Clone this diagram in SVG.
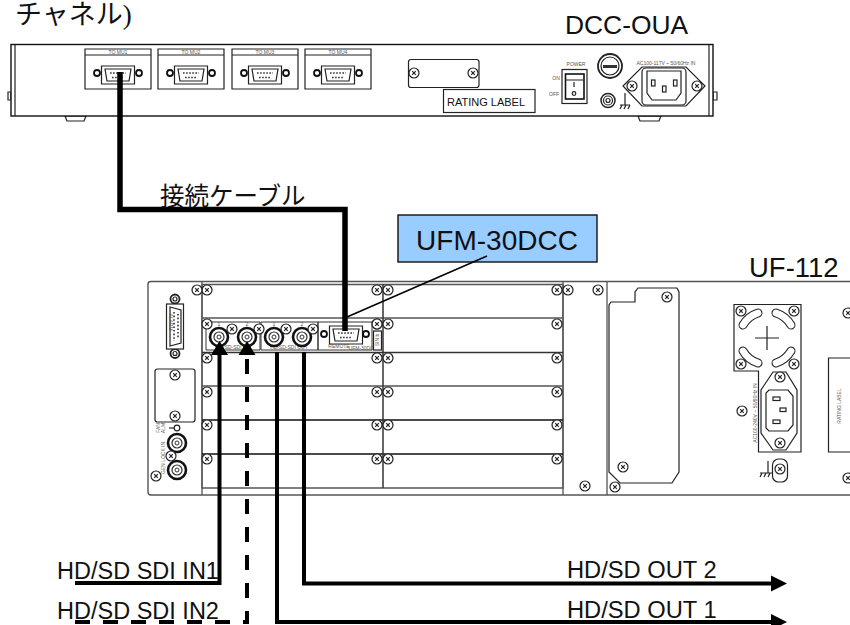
<svg xmlns="http://www.w3.org/2000/svg" width="850" height="625" viewBox="0 0 850 625">
<style>
.l{fill:none;stroke:#222;stroke-width:1.2}
.g{fill:none;stroke:#555;stroke-width:1.3}
.b{fill:#fff;stroke:#222;stroke-width:1.2}
.t{font-family:"Liberation Sans",Arial,sans-serif;fill:#111}
.s{font-family:"Liberation Sans",Arial,sans-serif;fill:#555;font-size:5px;text-anchor:middle}
.j{font-family:"Liberation Sans","Noto Sans CJK JP",sans-serif;fill:#111}
.c{fill:none;stroke:#000;stroke-width:4}
.h{fill:#000}
</style>
<defs>
<g id="sc"><circle r="5" fill="#fff" stroke="#222" stroke-width="1.2"/><path d="M-1.8-1.8 1.8 1.8M-1.8 1.8 1.8-1.8" stroke="#222" stroke-width="1.2"/></g>
<g id="dot"><circle r="3" fill="#fff" stroke="#111" stroke-width="1.8"/></g>
<g id="dsub"><path d="M-16.5-9H16.5V9H-16.5Z" class="b"/><path d="M-13-6H13L11 6H-11Z" class="b"/><path d="M-8-2H8M-6 2.500H6" stroke="#333" stroke-width="1.600" stroke-dasharray="1.600 1.500"/></g>
<g id="mod"><path d="M0 0H66V40H0ZM0 6H66" class="b"/><use href="#dsub" x="33" y="26"/><use href="#dot" x="12" y="24"/><use href="#dot" x="54" y="24"/></g>
<g id="bnc"><circle r="9" fill="#fff" stroke="#111" stroke-width="2.600"/><circle r="5" fill="#fff" stroke="#333" stroke-width="1.200"/><circle r="2" fill="none" stroke="#333" stroke-width="1"/></g>
</defs>

<g id="dcc-oua">
<path d="M65 116 67 121H84L86 116ZM638 116 640 121H659L661 116Z" class="b"/>
<path d="M11 92H8V100H11ZM713 92H717V100H713Z" class="b"/>
<rect x="11" y="44.500" width="702" height="71.500" fill="#fff" stroke="#111" stroke-width="1.400"/>
<path d="M15 45V116M709 45V116" class="l"/>
<use href="#mod" x="85" y="49"/><use href="#mod" x="158" y="49"/><use href="#mod" x="232" y="49"/><use href="#mod" x="305" y="49"/>
<text class="s" x="118" y="54">TO MU1</text><text class="s" x="191" y="54">TO MU2</text><text class="s" x="265" y="54">TO MU3</text><text class="s" x="338" y="54">TO MU4</text>
<rect x="408.500" y="59.500" width="70.500" height="28" rx="2.500" class="b"/>
<use href="#sc" x="414" y="73"/><use href="#sc" x="473" y="73"/>
<rect x="443.500" y="89.500" width="91.500" height="23" class="b"/>
<text class="t" x="447" y="106" font-size="11">RATING LABEL</text>
<text class="s" x="576" y="66">POWER</text>
<text class="s" x="556" y="80" font-size="4">ON</text><text class="s" x="554" y="96">OFF</text>
<rect x="562" y="69.500" width="25" height="34" class="b"/>
<rect x="565.500" y="74" width="18.500" height="25" fill="#fff" stroke="#111" stroke-width="1.600"/>
<path d="M565 80H584M574 82V87" class="l"/><circle cx="574" cy="93.500" r="1.800" class="l"/>
<circle cx="610" cy="66" r="12" fill="#fff" stroke="#222" stroke-width="1.800"/><circle cx="610" cy="66" r="9" class="l"/><path d="M603 65H617V68H603Z" fill="#333"/>
<circle cx="608" cy="100.500" r="7" fill="#fff" stroke="#222" stroke-width="1.500"/><circle cx="608" cy="100.500" r="4.500" class="l"/><circle cx="608" cy="100.500" r="2" class="l"/>
<path d="M625 93V105M620 105H630M622 105 620 109M626 105 624 109M630 105 628 109" class="l"/>
<text class="s" x="666" y="65">AC100-117V ~ 50/60Hz IN</text>
<path d="M642 67H686L705 86 686 106H642L623 86Z" class="b"/>
<rect x="642" y="68" width="44" height="37" rx="4" class="b"/>
<path d="M647 71H681V93L676 100H652L647 93Z" class="b"/>
<use href="#sc" x="632" y="86"/><use href="#sc" x="697" y="86"/>
<rect x="651.500" y="80" width="3.500" height="6" class="b"/><rect x="673.500" y="80" width="3.500" height="6" class="b"/><rect x="662.500" y="86" width="3.500" height="6" class="b"/>
</g>

<g id="uf-112">
<path d="M850 281.500H151Q148 281.500 148 284V492Q148 495 151 495H850" fill="#fff" stroke="#555" stroke-width="1.400"/>
<path d="M202 282V495M563 282V495M607 282V495" class="g"/>
<path d="M202 284.500H563V488H202Z" class="g" stroke="#333"/>
<path d="M202 318H563" class="g"/><path d="M202 352.500H563" stroke="#333" stroke-width="1.300"/><path d="M202 386H563" class="g"/><path d="M202 420H563M202 454H563" stroke="#111" stroke-width="1.500"/>
<path d="M383 284V488" stroke="#333" stroke-width="1.500"/>
<g id="sc-rows">
<use href="#sc" x="207" y="290"/><use href="#sc" x="377" y="290"/><use href="#sc" x="388" y="290"/><use href="#sc" x="557" y="290"/>
<use href="#sc" x="377" y="324"/><use href="#sc" x="388" y="324"/><use href="#sc" x="557" y="324"/>
<use href="#sc" x="207" y="358"/><use href="#sc" x="377" y="358"/><use href="#sc" x="388" y="358"/><use href="#sc" x="557" y="358"/>
<use href="#sc" x="207" y="392"/><use href="#sc" x="377" y="392"/><use href="#sc" x="388" y="392"/><use href="#sc" x="557" y="392"/>
<use href="#sc" x="207" y="425"/><use href="#sc" x="377" y="425"/><use href="#sc" x="388" y="425"/><use href="#sc" x="557" y="425"/>
<use href="#sc" x="207" y="459"/><use href="#sc" x="377" y="459"/><use href="#sc" x="388" y="459"/><use href="#sc" x="557" y="459"/>
</g>
<use href="#sc" x="197" y="290"/><use href="#sc" x="568" y="290"/><use href="#sc" x="598" y="290"/><use href="#sc" x="585" y="486"/><use href="#sc" x="156" y="476"/>
<circle cx="175" cy="299" r="4.500" fill="#fff" stroke="#222" stroke-width="1.800"/><circle cx="175" cy="299" r="2" class="l"/>
<circle cx="175" cy="353.500" r="4.500" fill="#fff" stroke="#222" stroke-width="1.800"/><circle cx="175" cy="353.500" r="2" class="l"/>
<rect x="166.500" y="304" width="17" height="45" class="b"/><path d="M170 307 181 310V343L170 346Z" class="b"/><path d="M174 312V341M178 314V339" stroke="#333" stroke-width="1.600" stroke-dasharray="1.600 2"/>
<text class="s" transform="translate(169 322) rotate(90)">ALARM</text>
<rect x="155" y="369" width="40" height="53" rx="2.500" class="b"/><use href="#sc" x="175" y="375"/><use href="#sc" x="175" y="416"/>
<circle cx="177" cy="428" r="2.800" class="b"/><path d="M169 428H174" class="l"/>
<text class="s" transform="translate(160 428) rotate(-90)">FAN</text><text class="s" transform="translate(165 428) rotate(-90)">ALM</text>
<text class="s" transform="translate(165 458) rotate(-90)">GEN LOCK IN</text>
<use href="#bnc" x="177" y="443"/><use href="#bnc" x="177" y="470"/><use href="#sc" x="171" y="456"/>
<path d="M206 322H260V350H206ZM261 322H318V350H261ZM318 322H372V350H318Z" fill="#fff" stroke="#333" stroke-width="1"/>
<use href="#sc" x="207" y="324"/><use href="#sc" x="377" y="324"/>
<text class="s" x="219" y="326">1</text><text class="s" x="247" y="326">2</text><text class="s" x="274" y="326">1</text><text class="s" x="302" y="326">2</text>
<text class="s" x="232" y="349">HD/SD-SDI IN</text><text class="s" x="289" y="349">HD/SD-SDI OUT</text>
<use href="#bnc" x="219" y="337"/><use href="#bnc" x="247" y="337"/><use href="#bnc" x="274" y="337"/><use href="#bnc" x="302" y="337"/>
<use href="#sc" x="232" y="329"/><use href="#sc" x="259" y="329"/><use href="#sc" x="286" y="329"/><use href="#sc" x="313" y="329"/>
<use href="#dsub" x="346" y="335"/><use href="#dot" x="324" y="334"/><use href="#dot" x="366" y="334"/>
<text class="s" x="339" y="348">REMOTE</text><text class="s" x="363" y="350" font-size="4">UFM-30DCC</text>
<rect x="373.500" y="331" width="8" height="19" class="b"/><text class="s" transform="translate(379 340) rotate(-90)">SIN b</text>
<path d="M611 302H635V292L638 288H677L679 292V472L672 483H620L609 472V305Z" class="b"/>
<use href="#sc" x="667" y="297"/><use href="#sc" x="623" y="467"/><use href="#sc" x="615" y="487"/>
<path d="M734 304.500H801V452H758.500V371H734Z" class="b"/>
<g fill="none" stroke-linecap="round">
<g stroke="#222" stroke-width="9"><path d="M743 325A27 27 0 0 1 758 313"/><path d="M776 313A27 27 0 0 1 791 325"/><path d="M743 351A27 27 0 0 0 758 363"/><path d="M776 363A27 27 0 0 0 791 351"/></g>
<g stroke="#fff" stroke-width="6.800"><path d="M743 325A27 27 0 0 1 758 313"/><path d="M776 313A27 27 0 0 1 791 325"/><path d="M743 351A27 27 0 0 0 758 363"/><path d="M776 363A27 27 0 0 0 791 351"/></g>
</g>
<path d="M755 338H779M767 326V350" class="l"/>
<use href="#sc" x="741" y="311"/><use href="#sc" x="794" y="311"/><use href="#sc" x="741" y="364"/><use href="#sc" x="794" y="364"/>
<path d="M773 372H786L797 390V433L786 450H773L761 433V390Z" class="b"/>
<path d="M769 390H788L793 396V425L788 431H769L766 428V393Z" class="b"/>
<rect x="773" y="397" width="7" height="3.500" class="b"/><rect x="773" y="420" width="7" height="3.500" class="b"/><rect x="780" y="408" width="6" height="3.500" class="b"/>
<use href="#sc" x="780" y="377"/><use href="#sc" x="780" y="443"/><use href="#sc" x="742" y="411"/>
<text class="s" transform="translate(757 413) rotate(-90)">AC100-240V ~ 50/60Hz IN</text>
<rect x="772.500" y="459" width="15" height="23" rx="6" class="b"/><use href="#sc" x="780" y="469"/>
<path d="M768 461V473M760 473H772M762 473 760 477M766 473 764 477M770 473 768 477" class="l"/>
<path d="M850 358H828.500V452H850" class="b"/>
<text class="s" transform="translate(841 406) rotate(-90)" font-size="6">RATING LABEL</text>
<use href="#sc" x="848" y="313"/><use href="#sc" x="848" y="478"/>
</g>

<g id="ufm-30dcc">
<rect x="398" y="215" width="199" height="47" fill="#99ccff" stroke="#111" stroke-width="1.400"/>
<text class="t" x="497" y="250" font-size="28" text-anchor="middle">UFM-30DCC</text>
</g>

<g id="connectors">
<path d="M120 72V209.500H345V331" fill="none" stroke="#000" stroke-width="5.500"/>
<path d="M347 317 487 256" fill="none" stroke="#000" stroke-width="1.500"/>
<path class="c" d="M75 583H219.500V352"/>
<path class="c" stroke-dasharray="15 13" d="M75 622H247V356"/>
<path class="c" d="M304 352V583.500H772"/>
<path class="c" d="M277 352V622H772"/>
<path class="h" d="M219.500 341 228 355H211ZM247 341 255.500 355H238.500ZM787 583.500 771 575.500V591.500ZM787 622 771 614V630Z"/>
</g>

<g id="labels">
<text class="j" x="15" y="24" font-size="27">チャネル<tspan font-family="Liberation Serif,serif">)</tspan></text>
<text class="t" x="565" y="34" font-size="26.400">DCC-OUA</text>
<text class="j" x="160" y="205" font-size="24.500">接続ケーブル</text>
<text class="t" x="749" y="277" font-size="27.500">UF-112</text>
<text class="t" x="57" y="579" font-size="23.500">HD/SD SDI IN1</text>
<text class="t" x="57" y="619" font-size="23.500">HD/SD SDI IN2</text>
<text class="t" x="567" y="578" font-size="23.700">HD/SD OUT 2</text>
<text class="t" x="567" y="618" font-size="23.700">HD/SD OUT 1</text>
</g>
</svg>
